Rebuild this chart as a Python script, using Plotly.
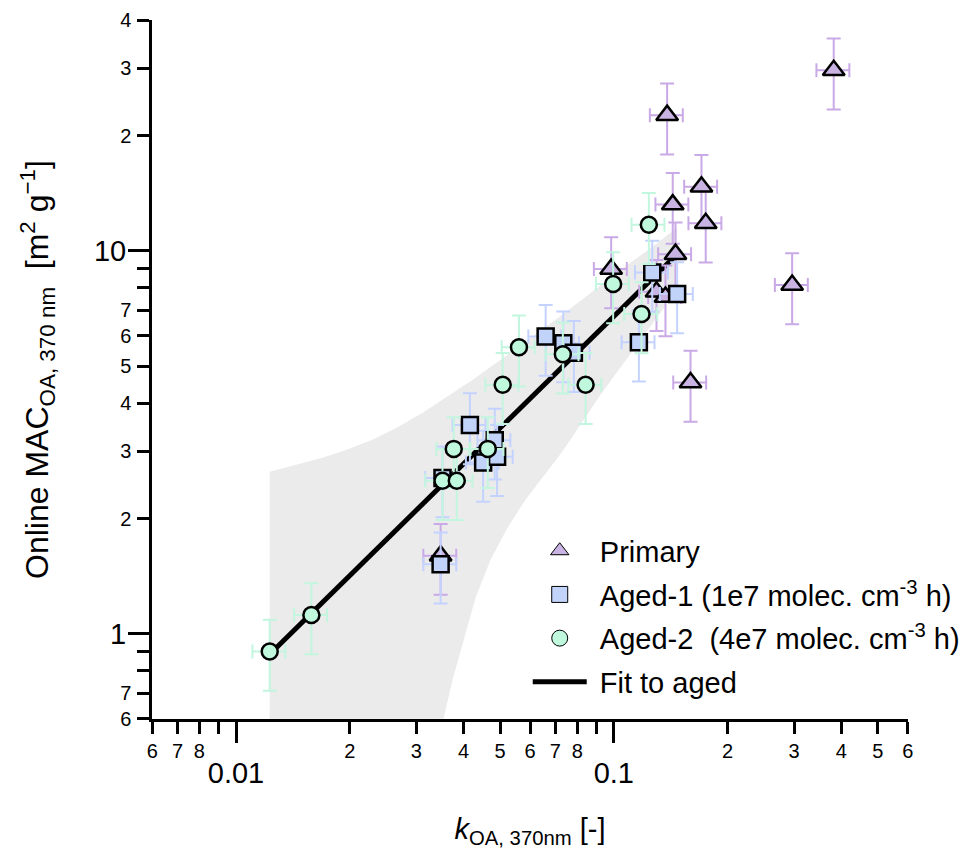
import math
import plotly.graph_objects as go

# ---------------- data ----------------
primary_k = [0.382, 0.1384, 0.1432, 0.1706, 0.1751, 0.1456, 0.0984, 0.1297, 0.137, 0.2965, 0.1596, 0.0348]
primary_mac = [29.6, 22.6, 13.2, 14.7, 11.8, 9.8, 8.96, 7.82, 7.57, 8.14, 4.53, 1.60]

aged1_k = [0.1264, 0.1471, 0.1165, 0.066, 0.0735, 0.0784, 0.0416, 0.0484, 0.0451, 0.0491, 0.0352, 0.0348]
aged1_mac = [8.78, 7.71, 5.77, 5.97, 5.74, 5.42, 3.51, 3.20, 2.80, 2.90, 2.55, 1.52]

aged2_k = [0.1238, 0.0996, 0.1184, 0.0842, 0.0561, 0.0733, 0.0508, 0.0377, 0.0464, 0.0352, 0.0384, 0.01583, 0.01228]
aged2_mac = [11.7, 8.19, 6.84, 4.47, 5.60, 5.37, 4.47, 3.04, 3.04, 2.51, 2.51, 1.12, 0.899]

err_k_pct = 10
err_mac_pct = 21

fit_k = [0.01228, 0.1471]
fit_mac = [0.885, 9.8]

band_upper_k = [0.01228, 0.01438, 0.01693, 0.01963, 0.02296, 0.02661, 0.03112, 0.03608,
                0.04221, 0.0501, 0.0602, 0.0723, 0.0868, 0.1041, 0.1251, 0.1471]
band_upper = [2.65, 2.763, 2.88, 3.023, 3.21, 3.45, 3.77, 4.155,
              4.60, 5.19, 5.92, 6.76, 7.76, 8.91, 10.16, 11.5]
band_lower_k = [0.1471, 0.1177, 0.0922, 0.0736, 0.05839, 0.05233, 0.04718, 0.04306,
                0.04003, 0.03745, 0.03543, 0.01228]
band_lower = [7.90, 5.85, 4.21, 3.02, 2.24, 1.893, 1.562, 1.243,
              0.966, 0.760, 0.60, 0.60]

x_label_vals = [0.006, 0.007, 0.008, 0.02, 0.03, 0.04, 0.05, 0.06, 0.07, 0.08,
                0.2, 0.3, 0.4, 0.5, 0.6]
x_label_text = ["6", "7", "8", "2", "3", "4", "5", "6", "7", "8", "2", "3", "4", "5", "6"]
x_unlabeled_vals = [0.009, 0.09]
x_major_vals = [0.01, 0.1]
x_major_text = ["0.01", "0.1"]

y_label_vals = [0.6, 0.7, 2, 3, 4, 5, 6, 7, 20, 30, 40]
y_label_text = ["6", "7", "2", "3", "4", "5", "6", "7", "2", "3", "4"]
y_unlabeled_vals = [0.8, 0.9, 8, 9]
y_major_vals = [1, 10]
y_major_text = ["1", "10"]

# ---------------- style ----------------
FONT = "Liberation Sans, Arial, sans-serif"
c_prim_fill, c_prim_err = "#C8B3E2", "#C9A9E6"
c_a1_fill, c_a1_err = "#C2D3FA", "#C3D2FF"
c_a2_fill, c_a2_err = "#BFF8DC", "#C2F6DE"
band_col = "#EBEBEB"

xr = [math.log10(0.006) - 0.0005, math.log10(0.6) + 0.0005]
yr = [math.log10(0.6) - 0.0005, math.log10(40) + 0.0005]

fig = go.Figure()

# confidence band
fig.add_trace(go.Scatter(
    x=band_upper_k + band_lower_k, y=band_upper + band_lower,
    fill="toself", fillcolor=band_col, mode="lines", line=dict(width=0, color=band_col),
    showlegend=False, hoverinfo="skip"))

# fit line
fig.add_trace(go.Scatter(x=fit_k, y=fit_mac, mode="lines",
                         line=dict(color="black", width=5), showlegend=False))


def pts(xv, yv, sym, fill, errc, size):
    return go.Scatter(
        x=xv, y=yv, mode="markers", showlegend=False,
        marker=dict(symbol=sym, size=size, color=fill, line=dict(color="black", width=2.5)),
        error_x=dict(type="percent", value=err_k_pct, color=errc, thickness=2, width=7),
        error_y=dict(type="percent", value=err_mac_pct, color=errc, thickness=2, width=7))


fig.add_trace(pts(primary_k, primary_mac, "triangle-up", c_prim_fill, c_prim_err, 19))
fig.add_trace(pts(aged1_k, aged1_mac, "square", c_a1_fill, c_a1_err, 16))
fig.add_trace(pts(aged2_k, aged2_mac, "circle", c_a2_fill, c_a2_err, 16))

# legend-only entries
fig.add_trace(go.Scatter(x=[None], y=[None], mode="markers", name="\u00a0Primary", legendgroup="a",
                         marker=dict(symbol="triangle-up", size=16, color=c_prim_fill,
                                     line=dict(color="black", width=1))))
fig.add_trace(go.Scatter(x=[None], y=[None], mode="markers", legendgroup="b",
                         name="\u00a0Aged-1 (1e7 molec. cm<sup>-3</sup> h)",
                         marker=dict(symbol="square", size=16, color=c_a1_fill,
                                     line=dict(color="black", width=1))))
fig.add_trace(go.Scatter(x=[None], y=[None], mode="markers", legendgroup="c",
                         name="\u00a0Aged-2\u00a0 (4e7 molec. cm<sup>-3</sup> h)",
                         marker=dict(symbol="circle", size=16, color=c_a2_fill,
                                     line=dict(color="black", width=1))))
fig.add_trace(go.Scatter(x=[None], y=[None], mode="lines", name="\u00a0Fit to aged", legendgroup="d",
                         line=dict(color="black", width=5)))

# invisible trace to activate the overlaid major-tick axes
fig.add_trace(go.Scatter(x=[None], y=[None], xaxis="x2", yaxis="y2", mode="markers",
                         showlegend=False, hoverinfo="skip"))

common = dict(type="log", showgrid=False, zeroline=False, ticks="outside",
              tickwidth=2.5, tickcolor="black", automargin=False)

fig.update_layout(
    width=966, height=852,
    margin=dict(l=152, r=58, t=20, b=133, autoexpand=False),
    paper_bgcolor="white", plot_bgcolor="white",
    font=dict(family=FONT, color="black"),
    xaxis=dict(**common, range=xr, showline=True, linewidth=2.5, linecolor="black",
               tickmode="array", tickvals=x_label_vals, ticktext=x_label_text, ticklen=12,
               tickfont=dict(size=20), ticklabelstandoff=0,
               minor=dict(tickmode="array", tickvals=x_unlabeled_vals, ticks="outside",
                          ticklen=12, tickwidth=2.5, tickcolor="black", showgrid=False)),
    xaxis2=dict(**common, range=xr, overlaying="x", anchor="y2", side="bottom", showline=False,
                tickmode="array", tickvals=x_major_vals, ticktext=x_major_text, ticklen=23,
                tickfont=dict(size=29), ticklabelstandoff=5,
                title=dict(text="<i>k</i><sub>OA, 370nm</sub> [-]", font=dict(size=29), standoff=30)),
    yaxis=dict(**common, range=yr, showline=True, linewidth=2.5, linecolor="black",
               tickmode="array", tickvals=y_label_vals, ticktext=y_label_text, ticklen=12,
               tickfont=dict(size=20), ticklabelstandoff=2,
               minor=dict(tickmode="array", tickvals=y_unlabeled_vals, ticks="outside",
                          ticklen=12, tickwidth=2.5, tickcolor="black", showgrid=False)),
    yaxis2=dict(**common, range=yr, overlaying="y", anchor="x2", side="left", showline=False,
                tickmode="array", tickvals=y_major_vals, ticktext=y_major_text, ticklen=23,
                tickfont=dict(size=29), ticklabelstandoff=-4,
                title=dict(text="Online MAC<sub>OA, 370 nm</sub>\u00a0\u00a0[m<sup>2</sup> g<sup>\u22121</sup>]",
                           font=dict(size=32), standoff=35)),
    legend=dict(x=0.497, y=0.277, xanchor="left", yanchor="top", bgcolor="rgba(0,0,0,0)",
                font=dict(size=29, family=FONT), itemwidth=54, tracegroupgap=3,
                traceorder="grouped"),
    showlegend=True,
)

fig.write_html("out.html")
